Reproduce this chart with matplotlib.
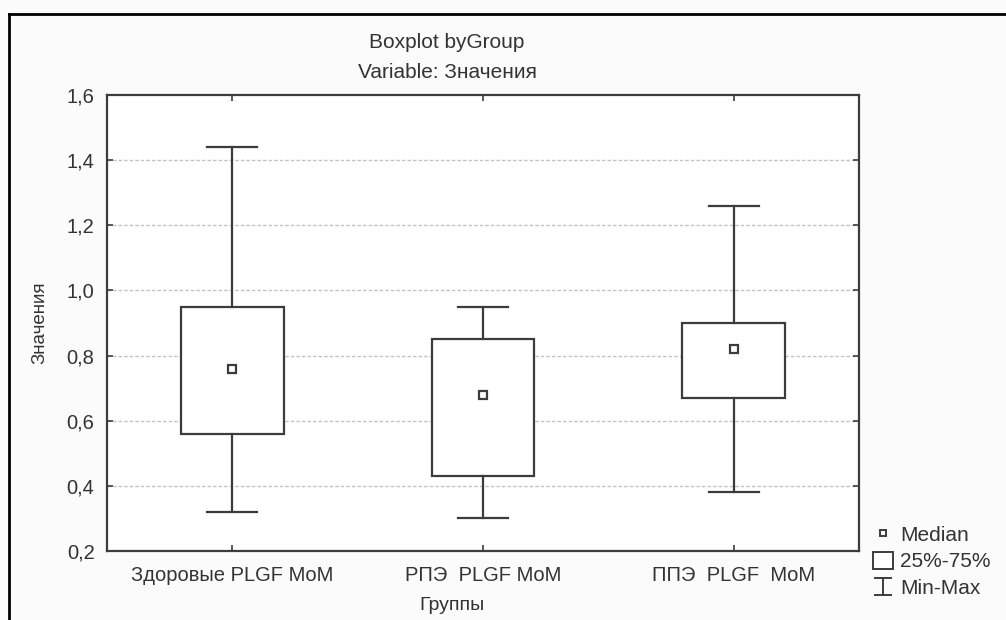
import matplotlib
matplotlib.use("Agg")
import matplotlib.pyplot as plt
from matplotlib.lines import Line2D
from matplotlib.patches import Rectangle
from matplotlib.legend_handler import HandlerBase

# values
groups = ["Здоровые PLGF MoM", "РПЭ  PLGF MoM", "ППЭ  PLGF  MoM"]
medians = [0.76, 0.68, 0.82]
q1 = [0.56, 0.43, 0.67]
q3 = [0.95, 0.85, 0.90]
mins = [0.32, 0.30, 0.38]
maxs = [1.44, 0.95, 1.26]
yticks = [0.2, 0.4, 0.6, 0.8, 1.0, 1.2, 1.4, 1.6]
ytick_labels = ["0,2", "0,4", "0,6", "0,8", "1,0", "1,2", "1,4", "1,6"]

plt.rcParams['font.family'] = ['Liberation Sans', 'DejaVu Sans']
LC = "#3c3c3c"
TC = "#333333"


class MinMaxHandler(HandlerBase):
    """ draws the I-shaped Min-Max glyph in the legend """
    def create_artists(self, legend, orig_handle, xdescent, ydescent,
                       width, height, fontsize, trans):
        cx = width / 2 - xdescent
        y0, y1 = -ydescent, height - ydescent
        hw = width * 0.4
        kw = dict(color=LC, lw=1.4, transform=trans)
        return [Line2D([cx, cx], [y0, y1], **kw),
                Line2D([cx - hw, cx + hw], [y0, y0], **kw),
                Line2D([cx - hw, cx + hw], [y1, y1], **kw)]


fig = plt.figure(figsize=(10.06, 6.2), dpi=100, facecolor="#fbfbfb")
ax = fig.add_axes([0.1064, 0.1113, 0.7475, 0.7355])

stats = []
for i in range(len(groups)):
    stats.append(dict(med=medians[i], q1=q1[i], q3=q3[i],
                      whislo=mins[i], whishi=maxs[i], fliers=[]))
pos = list(range(1, len(groups) + 1))

line_kw = dict(color=LC, linewidth=1.6)
ax.bxp(stats, positions=pos, widths=0.41, capwidths=0.2, showfliers=False,
       patch_artist=True,
       boxprops=dict(facecolor="white", edgecolor=LC, linewidth=1.6),
       whiskerprops=line_kw, capprops=line_kw,
       medianprops=dict(linestyle="none"), zorder=2)
ax.plot(pos, medians, linestyle="none", marker="s", markersize=6,
        markerfacecolor="white", markeredgecolor=LC, markeredgewidth=1.6,
        zorder=3)

ax.set_xlim(0.5, 3.5)
ax.set_ylim(0.2, 1.6)
ax.set_yticks(yticks)
ax.set_yticklabels(ytick_labels, fontsize=14.5, color=TC)
ax.set_xticks(pos)
ax.set_xticklabels(groups, fontsize=14.5, color=TC)
ax.tick_params(direction="in", length=4, width=1.2, color=LC,
               top=True, right=True, pad=9)
ax.tick_params(axis="x", pad=11)

for y in yticks[1:-1]:
    ax.axhline(y, color="#c2c2c2", linewidth=1.0, linestyle=(0, (2.5, 1.5)),
               zorder=0)
for s in ax.spines.values():
    s.set_color(LC)
    s.set_linewidth(1.6)

fig.text(447 / 1006, 1 - 42 / 620, "Boxplot byGroup", ha="center",
         va="center", fontsize=15, color=TC)
fig.text(447 / 1006, 1 - 72 / 620, "Variable: Значения", ha="center",
         va="center", fontsize=15, color=TC)
fig.text(40 / 1006, 1 - 323 / 620, "Значения", rotation=90, ha="center",
         va="center", fontsize=13.5, color=TC)
fig.text(452 / 1006, 1 - 606 / 620, "Группы", ha="center", va="center",
         fontsize=14, color=TC)

# outer frame, cut off at right and bottom like the screenshot
fig.add_artist(Line2D([9 / 1006, 9 / 1006], [0, 1 - 14 / 620],
                      transform=fig.transFigure, color="black", lw=2))
fig.add_artist(Line2D([9 / 1006, 1], [1 - 14 / 620, 1 - 14 / 620],
                      transform=fig.transFigure, color="black", lw=2))

h_med = Line2D([], [], linestyle="none", marker="s", markersize=5,
               markerfacecolor="white", markeredgecolor=LC,
               markeredgewidth=1.4)
h_box = Rectangle((0, 0), 1, 1, facecolor="white", edgecolor=LC, lw=1.4)
h_mm = object()
fig.legend([h_med, h_box, h_mm], ["Median", "25%-75%", "Min-Max"],
           handler_map={h_mm: MinMaxHandler()},
           loc="upper left", bbox_to_anchor=(873 / 1006, 1 - 525 / 620),
           frameon=False, fontsize=15, handlelength=0.95, handleheight=0.9,
           handletextpad=0.35, labelspacing=0.32, borderpad=0,
           borderaxespad=0, labelcolor=TC)

fig.savefig("out.png", dpi=100, facecolor=fig.get_facecolor())
